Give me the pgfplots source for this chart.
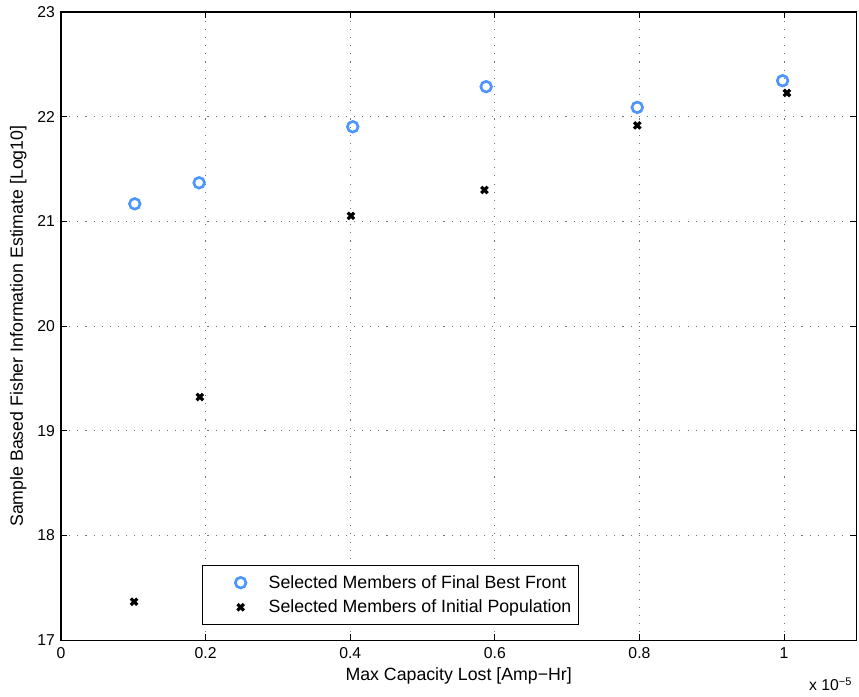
\documentclass[border=0pt]{standalone}
\usepackage{pgfplots}
\pgfplotsset{compat=1.18}
\usepackage{fontspec}
\setmainfont{Liberation Sans}
\definecolor{mblue}{RGB}{77,150,255}
\begin{document}
\begin{tikzpicture}
\begin{axis}[
  scale only axis,
  width=596.25pt, height=471pt,
  at={(0,0)}, anchor=south west,
  xmin=0, xmax=1.1, ymin=17, ymax=23,
  xtick={0,0.2,0.4,0.6,0.8,1},
  xticklabels={0,0.2,0.4,0.6,0.8,1},
  ytick={17,18,19,20,21,22,23},
  /pgf/number format/assume math mode=true,
  tick align=inside,
  major tick length=4.5pt,
  axis line style={line width=0.8pt},
  every tick/.style={black, line width=0.6pt},
  grid=major,
  major grid style={black!55, line width=0.6pt, dash pattern=on 0.8pt off 5.3pt},
  tick label style={font=\fontsize{11.8}{14}\selectfont},
  xticklabel style={yshift=-2pt},
  yticklabel style={xshift=-1pt},
  xlabel={Max Capacity Lost [Amp−Hr]},
  ylabel={Sample Based Fisher Information Estimate [Log10]},
  label style={font=\fontsize{13.3}{16}\selectfont},
  xlabel style={at={(axis description cs:0.5,0)}, anchor=north, yshift=-17pt},
  ylabel style={at={(axis description cs:0,0.5)}, anchor=center, yshift=32pt},
  legend style={at={(rel axis cs:0.1774,0.0239)}, anchor=south west,
    draw=black, line width=0.8pt, fill=white,
    font=\fontsize{13.3}{16}\selectfont, row sep=3.3pt,
    inner xsep=3.5pt, inner ysep=5.5pt},
  legend cell align=left,
  legend image code/.code={\path[draw=none,fill=none] (0pt,0pt) -- (44pt,0pt); \draw[#1] plot coordinates {(25pt,0pt)};},
  clip=false,
]
\addplot[only marks, mark=o, mark size=4pt, draw=mblue, line width=2pt] coordinates {
  (0.102,21.168) (0.191,21.369) (0.4035,21.904) (0.588,22.287) (0.797,22.089) (0.998,22.344)
};
\addlegendentry{Selected Members of Final Best Front}
\addplot[only marks, mark=x, mark size=3.4pt, draw=black, line width=2.4pt] coordinates {
  (0.101,17.368) (0.192,19.323) (0.401,21.053) (0.5856,21.30) (0.797,21.917) (1.004,22.227)
};
\addlegendentry{Selected Members of Initial Population}
\node[anchor=base east, font=\fontsize{11.8}{14}\selectfont, inner sep=0pt] at (rel axis cs:1,0) [xshift=-3pt, yshift=-38pt] {x 10\textsuperscript{−5}};
\end{axis}
\pgfresetboundingbox
\path[use as bounding box] (-45.75pt,-42pt) rectangle (598.25pt,480pt);
\end{tikzpicture}
\end{document}
